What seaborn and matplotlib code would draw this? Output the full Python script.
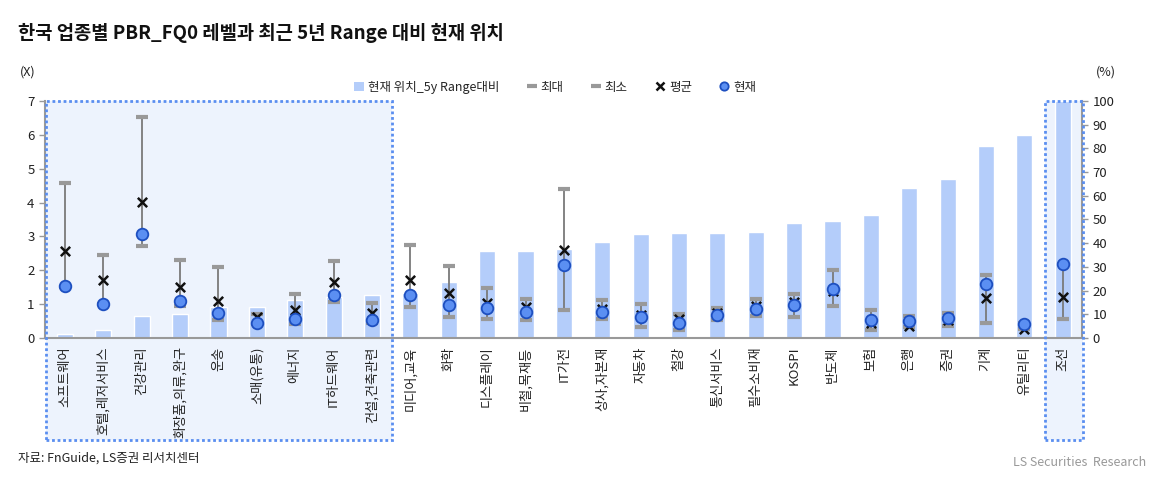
import numpy as np
import pandas as pd
import seaborn as sns
import matplotlib
matplotlib.use("Agg")
import matplotlib.pyplot as plt
from matplotlib.patches import Rectangle, Patch
from matplotlib.lines import Line2D

# sectors, left to right
sectors = ["소프트웨어", "호텔,레저서비스", "건강관리", "화장품,의류,완구", "운송", "소매(유통)",
           "에너지", "IT하드웨어", "건설,건축관련", "미디어,교육", "화학", "디스플레이",
           "비철,목재등", "IT가전", "상사,자본재", "자동차", "철강", "통신서비스",
           "필수소비재", "KOSPI", "반도체", "보험", "은행", "증권", "기계", "유틸리티", "조선"]

# current position vs 5y range (%), right axis
range_pct = [1.5, 3.2, 9.4, 10.3, 13.0, 13.2, 16.2, 17.2, 18.3, 18.9, 23.5, 36.6,
             36.6, 37.7, 40.4, 43.9, 44.1, 44.2, 44.6, 48.6, 49.2, 51.8, 63.2, 66.9,
             81.0, 85.5, 100.0]

# PBR (x), left axis
pbr_max = [4.59, 2.44, 6.52, 2.31, 2.10, 0.72, 1.31, 2.28, 1.04, 2.75, 2.12, 1.48,
           1.15, 4.39, 1.11, 0.99, 0.72, 0.89, 1.15, 1.31, 2.00, 0.82, 0.66, 0.74,
           1.86, 0.43, 2.20]
pbr_min = [1.50, 0.99, 2.71, 0.94, 0.54, 0.42, 0.42, 1.06, 0.45, 0.93, 0.63, 0.55,
           0.54, 0.84, 0.56, 0.33, 0.23, 0.54, 0.66, 0.63, 0.94, 0.25, 0.32, 0.35,
           0.44, 0.28, 0.57]
pbr_mean = [2.58, 1.71, 4.01, 1.50, 1.08, 0.61, 0.82, 1.66, 0.74, 1.70, 1.33, 1.04,
            0.92, 2.59, 0.86, 0.69, 0.56, 0.74, 0.94, 1.07, 1.38, 0.44, 0.35, 0.54,
            1.18, 0.27, 1.20]
pbr_now = [1.53, 1.00, 3.07, 1.08, 0.74, 0.44, 0.57, 1.27, 0.54, 1.26, 0.98, 0.89,
           0.76, 2.17, 0.78, 0.61, 0.44, 0.68, 0.87, 0.96, 1.46, 0.52, 0.51, 0.59,
           1.59, 0.41, 2.20]

sns.set_style("white")
plt.rcParams["font.family"] = ["Noto Sans CJK KR", "DejaVu Sans"]
plt.rcParams["axes.unicode_minus"] = False

W, H = 1150, 482
fig = plt.figure(figsize=(W / 100, H / 100), dpi=100)

def fx(px):
    return px / W

def fy(py):
    return 1 - py / H

boxes = [(46, 392), (1045, 1083)]

# highlighted box fills, behind the axes
for x0, x1 in boxes:
    fig.patches.append(Rectangle((fx(x0), fy(440)), fx(x1 - x0), (440 - 101) / H,
                                 transform=fig.transFigure, facecolor="#edf3fd",
                                 edgecolor="none", zorder=-10))

ax = fig.add_axes([fx(45), fy(338), fx(1082 - 45), (338 - 101) / H])
ax.set_facecolor("none")
ax2 = ax.twinx()
ax2.set_facecolor("none")

df = pd.DataFrame({"sector": sectors, "pct": range_pct})
sns.barplot(data=df, x="sector", y="pct", ax=ax, color="#b4cdfa", saturation=1,
            width=0.42, order=sectors)
ax.set_ylim(0, 100)
ax.set_yticks(np.arange(0, 101, 10))
ax.yaxis.tick_right()
ax.yaxis.set_label_position("right")
ax.set_xlim(-0.52, 26.44)
ax.set_xlabel("")
ax.set_ylabel("")

pos = np.arange(len(sectors))
ax2.vlines(pos, pbr_min, pbr_max, color="#7a7a7a", lw=1.3, zorder=2)
ax2.scatter(pos, pbr_max, marker="_", s=65, color="#999999", linewidths=3, zorder=2)
ax2.scatter(pos, pbr_min, marker="_", s=65, color="#999999", linewidths=3, zorder=2)
sns.scatterplot(x=pos, y=pbr_mean, ax=ax2, marker="x", s=45, color="#111111",
                linewidth=1.8, zorder=3)
sns.scatterplot(x=pos, y=pbr_now, ax=ax2, marker="o", s=70, color="#5b8ff2",
                edgecolor="#1d4fc0", linewidth=1.3, zorder=4)
ax2.set_ylim(0, 7)
ax2.set_yticks(range(0, 8))
ax2.yaxis.tick_left()
ax2.set_xlim(-0.52, 26.44)

for a in (ax, ax2):
    for s in a.spines.values():
        s.set_visible(False)
    a.tick_params(axis="y", labelsize=9.5, colors="#222222", length=4,
                  width=1, color="#999999")
ax2.spines["left"].set_visible(True)
ax2.spines["left"].set_color("#999999")
ax2.spines["left"].set_linewidth(1.5)
ax.spines["right"].set_visible(True)
ax.spines["right"].set_color("#999999")
ax.spines["right"].set_linewidth(1.5)
ax.spines["bottom"].set_visible(True)
ax.spines["bottom"].set_color("#999999")
ax.spines["bottom"].set_linewidth(1.5)

ax.set_xticks(pos)
ax.set_xticklabels(sectors, rotation=90, fontsize=9.5, color="#222222")
ax.tick_params(axis="x", length=0, pad=6)
ax.set_xticks(np.arange(-0.5, len(sectors), 1), minor=True)
ax.tick_params(axis="x", which="minor", length=4, color="#999999", width=1)

# dotted borders on top
for x0, x1 in boxes:
    fig.patches.append(Rectangle((fx(x0), fy(440)), fx(x1 - x0), (440 - 101) / H,
                                 transform=fig.transFigure, facecolor="none",
                                 edgecolor="#5a8ef0", lw=2, ls=(0, (1, 1)),
                                 zorder=10))

fig.text(fx(18), fy(33), "한국 업종별 PBR_FQ0 레벨과 최근 5년 Range 대비 현재 위치",
         fontsize=13.5, fontweight="bold", va="center", ha="left", color="#111111")
fig.text(fx(20), fy(72), "(X)", fontsize=9, va="center", color="#222222")
fig.text(fx(1096), fy(72), "(%)", fontsize=9, va="center", color="#222222")
fig.text(fx(18), fy(458), "자료: FnGuide, LS증권 리서치센터", fontsize=9,
         va="center", color="#222222")
fig.text(fx(1146), fy(462), "LS Securities  Research", fontsize=9, va="center",
         ha="right", color="#999999")

handles = [
    Patch(facecolor="#b4cdfa", edgecolor="none"),
    Line2D([], [], marker="_", ls="none", color="#999999", markersize=7, mew=3),
    Line2D([], [], marker="_", ls="none", color="#999999", markersize=7, mew=3),
    Line2D([], [], marker="x", ls="none", color="#111111", markersize=6, mew=1.8),
    Line2D([], [], marker="o", ls="none", markerfacecolor="#5b8ff2",
           markeredgecolor="#1d4fc0", markersize=6, mew=1.3),
]
labels = ["현재 위치_5y Range대비", "최대", "최소", "평균", "현재"]
fig.legend(handles, labels, loc="center", bbox_to_anchor=(fx(555), fy(87)),
           ncol=5, frameon=False, fontsize=9, handlelength=0.8,
           handletextpad=0.3, columnspacing=2.2)

fig.savefig("out.png", dpi=100)
